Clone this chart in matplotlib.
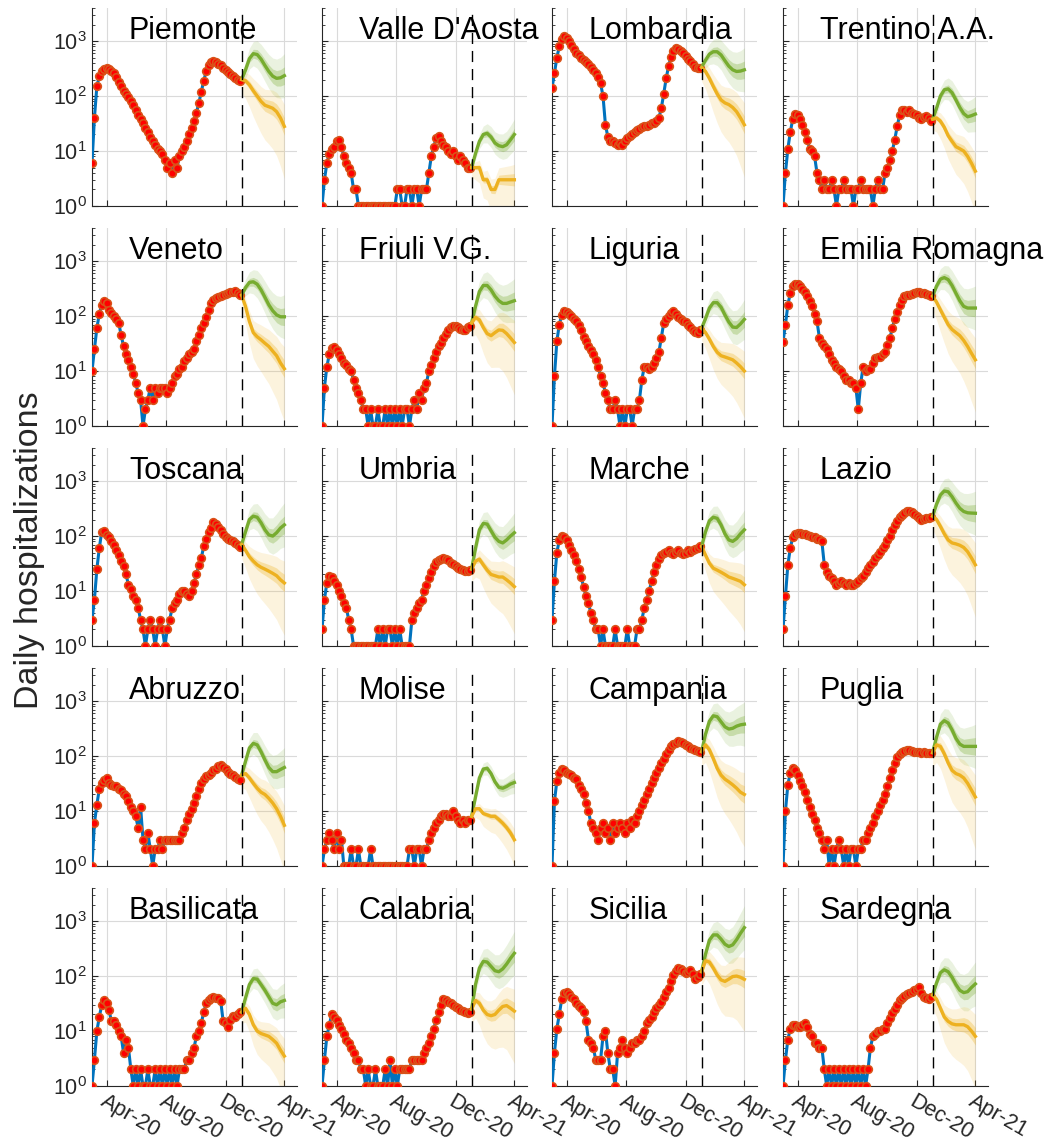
import numpy as np
import matplotlib
matplotlib.use('Agg')
import matplotlib.pyplot as plt
import matplotlib.dates as mdates
from matplotlib.ticker import LogLocator, NullFormatter

plt.rcParams['font.family'] = ['Liberation Sans', 'DejaVu Sans']

# observed daily hospitalizations, one reading every 5 days from 1 Mar 2020
obs_dates = np.arange(np.datetime64('2020-03-01'), np.datetime64('2021-01-01'), np.timedelta64(5, 'D'))
# forecast readings, every 8 days from 3 Jan 2021 to 1 Apr 2021
fc_dates = np.arange(np.datetime64('2021-01-03'), np.datetime64('2021-04-02'), np.timedelta64(8, 'D'))
split_date = np.datetime64('2021-01-03')

piemonte = [6, 40, 150, 230, 280, 310, 320, 310, 290, 260,
            220, 180, 150, 125, 110, 95, 80, 70, 55, 45,
            38, 32, 26, 22, 18, 15, 13, 11, 10, 9,
            7, 5, 6, 4, 7, 5, 8, 10, 12, 15,
            20, 26, 35, 50, 75, 120, 190, 280, 360, 410,
            430, 420, 390, 360, 330, 300, 275, 250, 230, 210,
            195, 190]
piemonte_green = [200, 300, 480, 590, 570, 470, 360, 280, 230, 210, 215, 235]
piemonte_yellow = [200, 190, 160, 125, 100, 80, 68, 64, 60, 52, 40, 28]

valle = [1, 3, 6, 9, 11, 12, 15, 16, 12, 8,
         6, 5, 4, 2, 2, 1, 1, 1, 1, 1,
         1, 1, 1, 1, 1, 1, 1, 1, 1, 1,
         1, 2, 2, 1, 1, 2, 2, 1, 2, 2,
         1, 2, 2, 2, 4, 8, 12, 17, 19, 15,
         13, 12, 10, 9, 10, 8, 7, 8, 7, 6,
         5, 5]
valle_green = [5, 9, 15, 20, 21, 18, 14, 12.5, 12, 13, 16, 20]
valle_yellow = [5, 5, 5, 3, 3, 2, 2, 3, 3, 3, 3, 3]

lombardia = [140, 260, 500, 800, 1100, 1250, 1150, 1000, 850, 720,
             620, 560, 500, 460, 420, 380, 340, 300, 260, 220,
             170, 100, 30, 18, 15, 15, 14, 13, 14, 13,
             15, 17, 19, 20, 22, 24, 25, 27, 28, 28,
             30, 32, 33, 35, 40, 60, 110, 210, 350, 520,
             650, 740, 720, 650, 600, 540, 480, 430, 380, 340,
             320, 330]
lombardia_green = [340, 450, 580, 640, 640, 560, 440, 350, 300, 280, 285, 300]
lombardia_yellow = [330, 280, 210, 150, 110, 85, 75, 70, 62, 52, 40, 30]

trentino = [1, 4, 11, 22, 38, 47, 45, 38, 30, 22,
            16, 11, 10, 8, 4, 3, 2, 3, 2, 2,
            3, 2, 1, 2, 2, 3, 2, 2, 2, 1,
            2, 2, 3, 2, 2, 2, 2, 1, 2, 3,
            2, 2, 4, 5, 7, 10, 16, 28, 45, 56,
            55, 52, 55, 50, 47, 45, 40, 38, 42, 44,
            40, 35]
trentino_green = [38, 60, 100, 130, 135, 115, 85, 62, 48, 42, 44, 47]
trentino_yellow = [38, 40, 35, 27, 19, 15, 12, 11, 10, 8, 6, 4.3]

veneto = [10, 25, 60, 110, 160, 190, 170, 130, 115, 100,
          90, 75, 45, 28, 20, 16, 12, 9, 6, 4,
          3, 1, 2, 3, 5, 3, 5, 4, 5, 5,
          5, 4, 5, 6, 8, 9, 11, 12, 15, 17,
          20, 22, 25, 35, 45, 60, 75, 95, 130, 170,
          200, 210, 225, 230, 240, 250, 260, 270, 270, 280,
          260, 240]
veneto_green = [240, 330, 410, 420, 380, 300, 220, 160, 125, 105, 97, 97]
veneto_yellow = [240, 150, 80, 50, 42, 37, 32, 28, 23, 19, 14, 11]

friuli = [1, 5, 12, 20, 26, 27, 24, 20, 17, 14,
          13, 11, 10, 7, 5, 4, 3, 2, 2, 1,
          2, 1, 1, 2, 1, 1, 2, 1, 2, 1,
          2, 1, 2, 1, 2, 2, 1, 2, 3, 2,
          4, 3, 5, 6, 10, 13, 17, 22, 28, 33,
          40, 48, 55, 62, 65, 67, 64, 58, 55, 56,
          62, 66]
friuli_green = [75, 150, 280, 360, 360, 300, 230, 190, 170, 170, 180, 190]
friuli_yellow = [75, 95, 85, 62, 48, 44, 50, 56, 55, 48, 40, 33]

liguria = [1, 8, 35, 70, 105, 125, 120, 110, 100, 90,
           80, 70, 55, 42, 35, 28, 24, 20, 16, 12,
           8, 6, 4, 3, 2, 2, 3, 2, 1, 2,
           1, 2, 2, 1, 2, 2, 3, 7, 12, 12,
           11, 12, 14, 17, 22, 40, 75, 90, 100, 115,
           125, 110, 95, 88, 82, 78, 70, 62, 56, 52,
           50, 55]
liguria_green = [60, 90, 140, 175, 175, 145, 105, 78, 63, 62, 72, 87]
liguria_yellow = [60, 50, 38, 28, 22, 19, 18, 17, 16, 14, 12, 10]

emilia = [34, 70, 160, 260, 350, 390, 380, 350, 310, 270,
          230, 190, 150, 110, 80, 40, 32, 28, 25, 20,
          16, 14, 12, 11, 10, 8, 7, 7, 6, 6,
          5, 2, 6, 12, 10, 11, 11, 14, 17, 18,
          18, 20, 22, 30, 40, 60, 90, 120, 160, 200,
          230, 240, 245, 255, 265, 270, 270, 265, 260, 250,
          240, 230]
emilia_green = [230, 350, 470, 500, 460, 360, 260, 190, 150, 140, 140, 140]
emilia_yellow = [230, 180, 130, 95, 70, 57, 50, 44, 36, 28, 21, 16]

toscana = [3, 7, 25, 60, 120, 125, 105, 95, 82, 70,
           55, 45, 35, 28, 20, 13, 11, 8, 7, 5,
           3, 2, 1, 2, 3, 2, 1, 2, 3, 2,
           1, 2, 3, 5, 6, 7, 9, 10, 10, 9,
           8, 10, 14, 20, 30, 40, 65, 90, 120, 140,
           180, 165, 145, 130, 110, 95, 90, 85, 80, 75,
           68, 64]
toscana_green = [70, 120, 200, 230, 220, 175, 130, 105, 100, 115, 140, 160]
toscana_yellow = [70, 55, 42, 35, 30, 27, 25, 23, 21, 19, 16, 14]

umbria = [2, 7, 14, 19, 18, 15, 13, 10, 8, 6,
          5, 3, 2, 1, 1, 1, 1, 1, 1, 1,
          1, 1, 1, 2, 1, 2, 1, 2, 2, 1,
          2, 1, 2, 1, 1, 1, 1, 3, 4, 5,
          6, 7, 10, 13, 17, 22, 28, 34, 37, 39,
          40, 38, 36, 33, 31, 28, 26, 25, 24, 23,
          23, 24]
umbria_green = [25, 60, 130, 170, 165, 125, 95, 80, 75, 85, 100, 115]
umbria_yellow = [25, 35, 38, 30, 24, 20, 19, 18, 18, 16, 14, 12]

marche = [3, 15, 50, 85, 100, 95, 85, 70, 55, 45,
          35, 25, 18, 12, 8, 6, 4, 3, 2, 2,
          1, 2, 1, 1, 1, 1, 2, 1, 1, 1,
          1, 2, 1, 1, 1, 2, 2, 3, 5, 7,
          10, 15, 22, 30, 38, 45, 50, 52, 55, 50,
          48, 52, 55, 50, 48, 50, 55, 52, 55, 58,
          60, 65]
marche_green = [65, 120, 190, 220, 210, 160, 110, 85, 80, 90, 110, 130]
marche_yellow = [65, 45, 32, 26, 24, 22, 20, 18, 17, 16, 15, 13]

lazio = [2, 8, 30, 60, 95, 110, 112, 115, 110, 108,
         105, 100, 98, 95, 90, 88, 80, 30, 22, 19,
         17, 15, 13, 14, 15, 14, 13, 14, 13, 13,
         14, 15, 17, 19, 22, 26, 30, 34, 40, 45,
         52, 60, 70, 85, 100, 130, 160, 190, 220, 245,
         265, 280, 285, 270, 255, 230, 215, 200, 205, 210,
         215, 225]
lazio_green = [230, 380, 560, 660, 640, 520, 400, 320, 280, 265, 262, 260]
lazio_yellow = [230, 200, 150, 110, 85, 75, 72, 68, 62, 52, 40, 30]

abruzzo = [1, 6, 13, 25, 32, 36, 40, 32, 30, 28,
           28, 25, 24, 20, 19, 15, 12, 10, 8, 5,
           12, 3, 2, 4, 2, 1, 2, 2, 3, 2,
           3, 3, 3, 3, 3, 3, 3, 4, 5, 7,
           9, 11, 14, 19, 25, 33, 38, 43, 46, 50,
           55, 58, 65, 68, 62, 57, 52, 48, 45, 42,
           38, 37]
abruzzo_green = [45, 80, 140, 170, 160, 120, 85, 62, 52, 52, 57, 62]
abruzzo_yellow = [45, 48, 40, 32, 26, 22, 20, 17, 14, 11, 8, 5.5]

molise = [1, 2, 3, 4, 3, 2, 4, 2, 3, 1,
          1, 1, 2, 1, 1, 2, 1, 1, 1, 1,
          2, 1, 1, 1, 1, 1, 1, 1, 1, 1,
          1, 1, 1, 1, 1, 1, 2, 2, 1, 2,
          2, 1, 2, 2, 3, 4, 5, 6, 7, 8,
          9, 9, 8, 8, 10, 8, 7, 6, 7, 6,
          7, 7]
molise_green = [8, 18, 40, 58, 60, 48, 34, 27, 26, 28, 31, 33]
molise_yellow = [8, 11, 11, 9, 8.5, 8, 8, 7, 6, 5, 4, 3]

campania = [1, 15, 35, 50, 58, 55, 50, 48, 45, 40,
            38, 30, 25, 20, 14, 10, 6, 5, 4, 3,
            5, 6, 4, 5, 3, 6, 4, 5, 6, 5,
            4, 6, 5, 7, 6, 8, 10, 13, 16, 20,
            25, 32, 40, 50, 60, 75, 90, 110, 130, 150,
            165, 175, 185, 180, 170, 160, 150, 140, 135, 130,
            125, 120]
campania_green = [120, 250, 430, 540, 520, 420, 340, 310, 320, 350, 370, 380]
campania_yellow = [120, 160, 130, 90, 60, 45, 38, 34, 30, 26, 22, 20]

puglia = [1, 10, 30, 50, 60, 55, 45, 35, 28, 22,
          16, 12, 9, 7, 5, 4, 3, 2, 3, 1,
          2, 1, 2, 3, 2, 1, 2, 1, 2, 2,
          1, 2, 2, 3, 3, 4, 5, 6, 8, 10,
          13, 16, 20, 28, 40, 55, 75, 95, 110, 120,
          125, 130, 128, 125, 120, 118, 120, 115, 118, 115,
          112, 115]
puglia_green = [115, 220, 380, 440, 400, 300, 210, 165, 150, 150, 150, 150]
puglia_yellow = [115, 160, 150, 110, 75, 55, 48, 45, 40, 32, 24, 18]

basilicata = [1, 3, 10, 18, 30, 36, 32, 24, 15, 15,
              13, 10, 8, 4, 7, 5, 2, 1, 2, 1,
              2, 1, 1, 2, 1, 1, 2, 1, 2, 1,
              2, 1, 2, 1, 2, 1, 2, 2, 2, 3,
              3, 4, 5, 8, 10, 14, 22, 32, 36, 40,
              42, 40, 40, 35, 15, 14, 12, 16, 19, 18,
              20, 22]
basilicata_green = [22, 40, 70, 90, 88, 70, 55, 42, 32, 30, 34, 36]
basilicata_yellow = [22, 26, 20, 13, 10, 9, 8.5, 8, 7, 6, 4.5, 3.5]

calabria = [1, 3, 8, 13, 20, 18, 16, 13, 11, 9,
            7, 6, 5, 4, 3, 3, 2, 2, 1, 2,
            1, 1, 2, 1, 1, 1, 2, 1, 3, 1,
            2, 1, 2, 2, 2, 2, 2, 3, 3, 3,
            3, 3, 4, 5, 6, 8, 11, 16, 22, 30,
            38, 36, 34, 33, 30, 27, 26, 24, 23, 22,
            21, 22]
calabria_green = [25, 70, 140, 185, 180, 150, 125, 120, 135, 165, 210, 260]
calabria_yellow = [25, 36, 32, 24, 20, 19, 20, 24, 28, 29, 26, 23]

sicilia = [1, 4, 11, 20, 38, 50, 52, 48, 42, 38,
           32, 28, 26, 22, 15, 7, 6, 5, 3, 3,
           3, 8, 10, 4, 2, 2, 1, 4, 5, 7,
           5, 4, 5, 6, 6, 7, 7, 8, 10, 14,
           16, 18, 22, 26, 30, 34, 42, 52, 60, 80,
           105, 125, 140, 135, 125, 115, 120, 130, 110, 88,
           95, 110]
sicilia_green = [120, 250, 450, 560, 560, 470, 380, 345, 370, 460, 600, 760]
sicilia_yellow = [120, 190, 180, 140, 105, 85, 80, 88, 98, 100, 95, 87]

sardegna = [1, 3, 7, 11, 13, 13, 12, 12, 13, 14,
            12, 9, 8, 6, 6, 5, 5, 2, 1, 2,
            1, 2, 1, 2, 1, 2, 1, 2, 1, 2,
            1, 2, 1, 2, 1, 2, 5, 8, 9, 10,
            10, 11, 11, 14, 17, 21, 25, 30, 36, 40,
            44, 47, 50, 52, 55, 58, 63, 50, 41, 40,
            38, 42]
sardegna_green = [45, 75, 115, 130, 120, 95, 70, 55, 50, 52, 62, 72]
sardegna_yellow = [45, 38, 26, 18, 15, 13.5, 13, 13, 13, 12, 10, 8]

names = ['Piemonte', "Valle D'Aosta", 'Lombardia', 'Trentino A.A.',
         'Veneto', 'Friuli V.G.', 'Liguria', 'Emilia Romagna',
         'Toscana', 'Umbria', 'Marche', 'Lazio',
         'Abruzzo', 'Molise', 'Campania', 'Puglia',
         'Basilicata', 'Calabria', 'Sicilia', 'Sardegna']
observed = [piemonte, valle, lombardia, trentino, veneto, friuli, liguria, emilia,
            toscana, umbria, marche, lazio, abruzzo, molise, campania, puglia,
            basilicata, calabria, sicilia, sardegna]
green = [piemonte_green, valle_green, lombardia_green, trentino_green, veneto_green,
         friuli_green, liguria_green, emilia_green, toscana_green, umbria_green,
         marche_green, lazio_green, abruzzo_green, molise_green, campania_green,
         puglia_green, basilicata_green, calabria_green, sicilia_green, sardegna_green]
yellow = [piemonte_yellow, valle_yellow, lombardia_yellow, trentino_yellow, veneto_yellow,
          friuli_yellow, liguria_yellow, emilia_yellow, toscana_yellow, umbria_yellow,
          marche_yellow, lazio_yellow, abruzzo_yellow, molise_yellow, campania_yellow,
          puglia_yellow, basilicata_yellow, calabria_yellow, sicilia_yellow, sardegna_yellow]

# half widths of the forecast bands in decades
band_inner = [0.03, 0.05, 0.07, 0.08, 0.09, 0.10, 0.11, 0.12, 0.13, 0.14, 0.15, 0.16]
band_outer = [0.10, 0.15, 0.19, 0.22, 0.25, 0.27, 0.29, 0.31, 0.33, 0.35, 0.37, 0.40]
band_outer_low_yellow = [0.25, 0.32, 0.40, 0.47, 0.53, 0.58, 0.63, 0.68, 0.74, 0.80, 0.88, 0.95]
band_scale = [1.0, 0.7, 1.0, 0.8, 1.0, 1.0, 0.9, 1.0, 1.0, 0.9,
              0.9, 1.0, 0.9, 0.5, 1.0, 1.0, 0.8, 1.0, 1.0, 1.0]

tick_dates = np.array(['2020-04-01', '2020-08-01', '2020-12-01', '2021-04-01'], dtype='datetime64[D]')
tick_labels = ['Apr-20', 'Aug-20', 'Dec-20', 'Apr-21']

c_blue, c_green, c_yellow = '#0072BD', '#77AC30', '#EDB120'
dark = '#262626'

xo = mdates.date2num(obs_dates)
xf = mdates.date2num(fc_dates)
xs = mdates.date2num(split_date)
xt = mdates.date2num(tick_dates)
xlim = mdates.date2num(np.array(['2020-03-01', '2021-04-27'], dtype='datetime64[D]'))

W, H = 1058, 1143
fig = plt.figure(figsize=(W / 100, H / 100), dpi=100)
col_left = [92, 322, 552, 783]
row_top = [8, 228, 448, 668, 888]
ax_w, ax_h = 205, 198

bi = np.array(band_inner)
bo = np.array(band_outer)
boy = np.array(band_outer_low_yellow)

for i, name in enumerate(names):
    r, c = divmod(i, 4)
    ax = fig.add_axes([col_left[c] / W, 1 - (row_top[r] + ax_h) / H, ax_w / W, ax_h / H])
    obs = np.array(observed[i], float)
    g = np.array(green[i], float)
    y = np.array(yellow[i], float)
    s = band_scale[i]

    # forecast bands
    ax.fill_between(xf, g * 10 ** (-bo * s), g * 10 ** (bo * s), color=c_green, alpha=0.15, lw=0, zorder=1)
    ax.fill_between(xf, g * 10 ** (-bi * s), g * 10 ** (bi * s), color=c_green, alpha=0.3, lw=0, zorder=1)
    ax.fill_between(xf, y * 10 ** (-boy * s), y * 10 ** (bo * s), color=c_yellow, alpha=0.15, lw=0, zorder=1)
    ax.fill_between(xf, y * 10 ** (-bi * s), y * 10 ** (bi * s), color=c_yellow, alpha=0.3, lw=0, zorder=1)

    ax.plot(xo, obs, color=c_blue, lw=2.2, zorder=3)
    ax.plot(xo, obs, 'o', ms=5.5, mfc='#ff0000', mec='#d95319', mew=1.2, zorder=4)
    ax.plot(xf, g, color=c_green, lw=2.4, zorder=5)
    ax.plot(xf, y, color=c_yellow, lw=2.4, zorder=5)
    ax.axvline(xs, color='k', lw=1.0, ls=(0, (8, 5)), zorder=6)

    ax.set_yscale('log')
    ax.set_ylim(1, 4000)
    ax.set_xlim(xlim)
    ax.set_yticks([1, 10, 100, 1000])
    ax.yaxis.set_minor_locator(LogLocator(base=10, subs=np.arange(2, 10), numticks=20))
    ax.yaxis.set_minor_formatter(NullFormatter())
    ax.set_xticks(xt)
    if r == 4:
        ax.set_xticklabels(tick_labels, rotation=-30, ha='left', va='top', rotation_mode='anchor')
    else:
        ax.set_xticklabels([])
    ax.tick_params(which='both', direction='in', colors=dark, labelsize=15.5, labelleft=(c == 0))
    ax.tick_params(which='major', length=4)
    ax.tick_params(which='minor', length=2)
    ax.grid(True, which='major', color='#dadada', lw=0.8)
    ax.set_axisbelow(True)
    for side in ['top', 'right']:
        ax.spines[side].set_visible(False)
    for side in ['left', 'bottom']:
        ax.spines[side].set_color(dark)
        ax.spines[side].set_linewidth(0.8)

    ax.text(0.18, 0.96, name, transform=ax.transAxes, ha='left', va='top',
            fontsize=22, color='k', zorder=10, clip_on=False)

fig.text(30 / W, 1 - 550 / H, 'Daily hospitalizations', rotation=90,
         ha='center', va='center', fontsize=24.5, color=dark)

fig.savefig('out.png', dpi=100)
